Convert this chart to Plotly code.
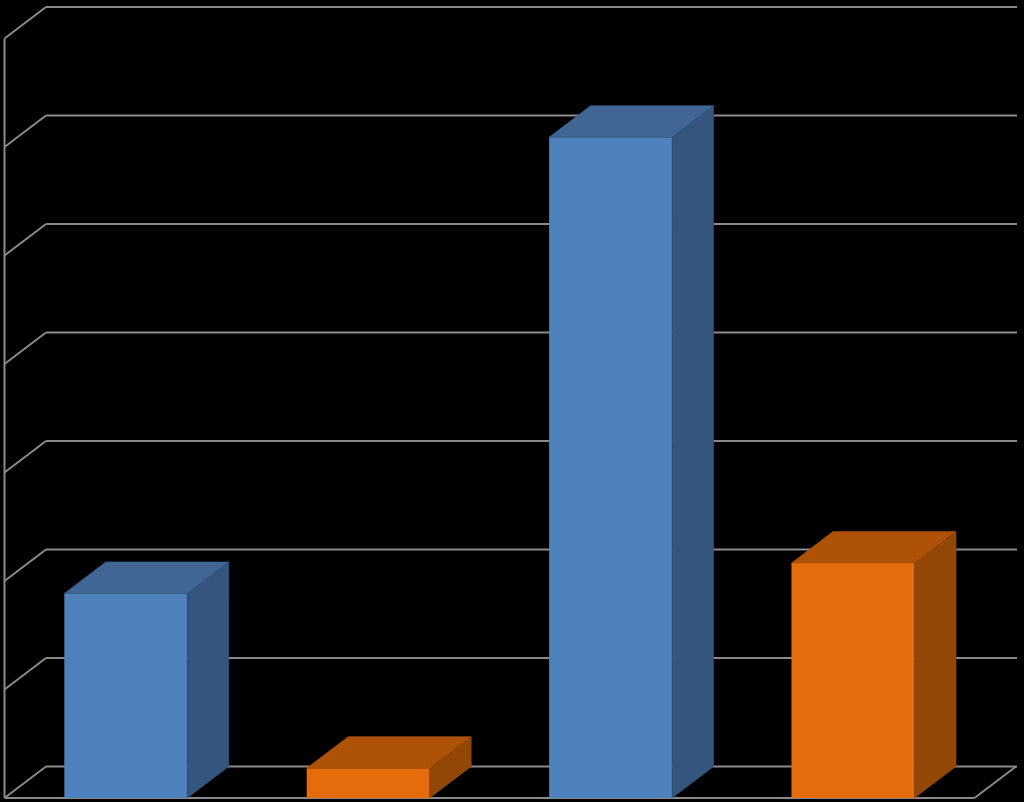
import plotly.graph_objects as go

blue_positions = [0, 2]
blue_values = [1.885, 6.09]
orange_positions = [1, 3]
orange_values = [0.275, 2.165]
gridline_values = [0, 1, 2, 3, 4, 5, 6, 7]

PX_X = 242.4
PX_Y = 108.5
X0 = 125.8
Y0 = 798.0
W, H = 1024, 802
BAR_W = 123.0 / PX_X
DX = 41.5 / PX_X
DY = 31.5 / PX_Y
X_LEFT = (4.5 - X0) / PX_X
X_FRONT_RIGHT = (974.5 - X0) / PX_X
X_GRID_END = (1017.0 - X0) / PX_X
GRID = "#8a8a8a"


def seg(x0, y0, x1, y1):
    return dict(type="line", layer="below", xref="x", yref="y", x0=x0, y0=y0, x1=x1, y1=y1,
                line=dict(color=GRID, width=2))


shapes = []
for g in gridline_values:
    shapes.append(seg(X_LEFT, g, X_LEFT + DX, g + DY))
    shapes.append(seg(X_LEFT + DX, g + DY, X_GRID_END, g + DY))
shapes.append(seg(X_LEFT, 0, X_LEFT, gridline_values[-1]))
shapes.append(seg(X_LEFT, 0, X_FRONT_RIGHT, 0))
shapes.append(seg(X_FRONT_RIGHT, 0, X_FRONT_RIGHT + DX, DY))

fig = go.Figure()


def add_series(name, xs, vs, front, top, side):
    fig.add_trace(go.Bar(name=name, x=xs, y=vs, width=BAR_W, marker=dict(color=front, line=dict(width=0))))
    for x, v in zip(xs, vs):
        l, r = x - BAR_W / 2, x + BAR_W / 2
        fig.add_trace(go.Scatter(x=[l, r, r + DX, l + DX, l], y=[v, v, v + DY, v + DY, v],
                                 fill="toself", fillcolor=top, mode="lines",
                                 line=dict(color=top, width=0.6), hoverinfo="skip"))
        fig.add_trace(go.Scatter(x=[r, r + DX, r + DX, r, r], y=[0, DY, v + DY, v, 0],
                                 fill="toself", fillcolor=side, mode="lines",
                                 line=dict(color=side, width=0.6), hoverinfo="skip"))


add_series("Blue", blue_positions, blue_values, "#4f81bd", "#3f6694", "#34557e")
add_series("Orange", orange_positions, orange_values, "#e46c0a", "#ae5208", "#934707")

fig.update_layout(
    width=W, height=H, margin=dict(l=0, r=0, t=0, b=0),
    paper_bgcolor="black", plot_bgcolor="black", showlegend=False, shapes=shapes,
    xaxis=dict(range=[(0 - X0) / PX_X, (W - X0) / PX_X], visible=False, fixedrange=True),
    yaxis=dict(range=[(Y0 - H) / PX_Y, Y0 / PX_Y], visible=False, fixedrange=True),
)
fig.write_html("out.html", config=dict(displayModeBar=False),
               post_script="document.body.style.margin='0';document.body.style.background='black';document.documentElement.style.overflow='hidden';")
